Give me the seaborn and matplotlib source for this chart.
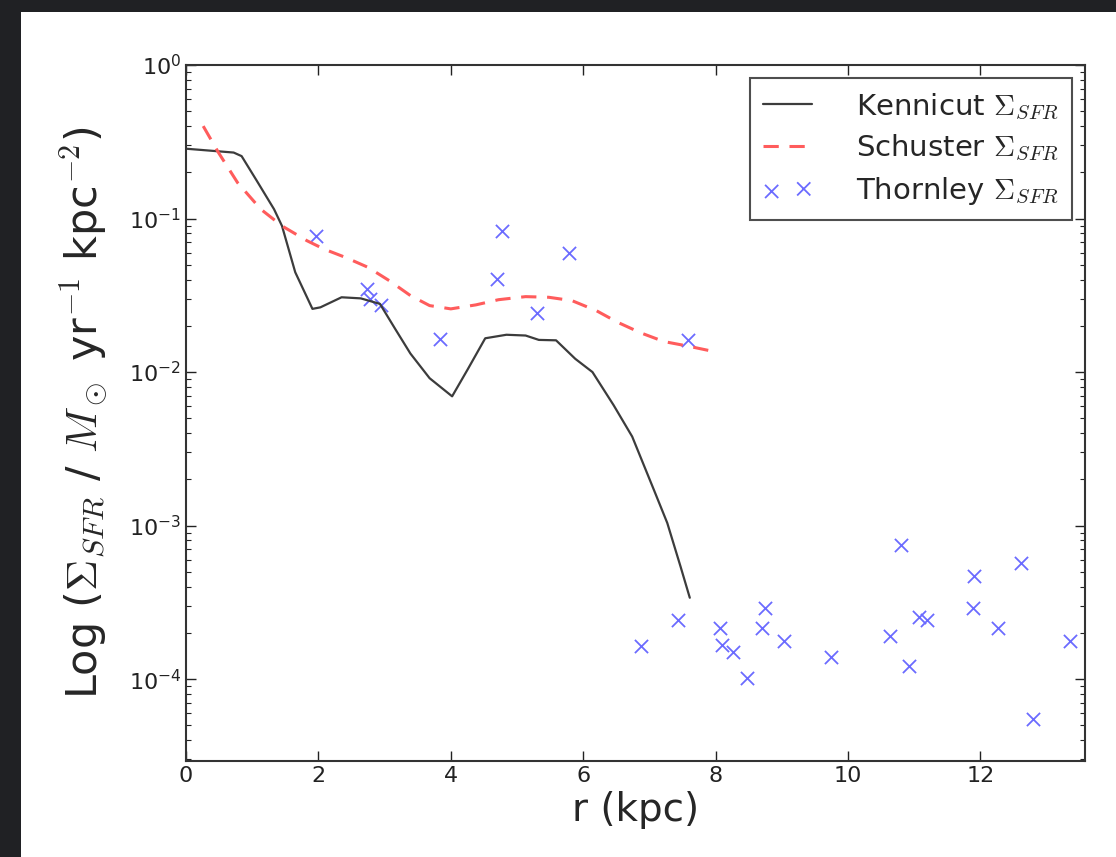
import numpy as np
import pandas as pd
import seaborn as sns
import matplotlib.pyplot as plt
from matplotlib.patches import Rectangle

# Kennicut profile (solid black)
kenn_r = [0.0, 0.72, 0.84, 1.07, 1.33, 1.45, 1.65, 1.91, 2.03, 2.35, 2.64, 2.93,
          3.16, 3.39, 3.68, 4.02, 4.26, 4.52, 4.84, 5.13, 5.33, 5.59, 5.88, 6.14,
          6.46, 6.74, 7.07, 7.27, 7.47, 7.61]
kenn_sfr = [0.285, 0.269, 0.255, 0.176, 0.115, 0.0895, 0.0447, 0.0258, 0.0264,
            0.0307, 0.0302, 0.0278, 0.0191, 0.0132, 0.00912, 0.00695, 0.0105,
            0.0166, 0.0175, 0.0173, 0.0162, 0.0161, 0.0122, 0.0100, 0.00608,
            0.0038, 0.0017, 0.00104, 0.000542, 0.000339]

# Schuster profile (red dashed)
schu_r = [0.26, 0.49, 0.78, 1.13, 1.45, 1.83, 2.09, 2.41, 2.75, 3.07, 3.39, 3.68,
          4.0, 4.38, 4.72, 5.13, 5.48, 5.83, 6.2, 6.52, 6.87, 7.22, 7.57, 7.94]
schu_sfr = [0.40, 0.269, 0.171, 0.115, 0.0895, 0.0716, 0.0631, 0.0558, 0.0481,
            0.0394, 0.0315, 0.0271, 0.0258, 0.0274, 0.0296, 0.031, 0.0307,
            0.0292, 0.0251, 0.0211, 0.018, 0.0158, 0.0148, 0.0137]

# Thornley measurements (blue crosses)
thor_r = [1.97, 2.74, 2.78, 2.94, 3.84, 4.70, 4.77, 5.30, 5.79, 7.59,
          6.88, 7.43, 8.07, 8.10, 8.27, 8.48, 8.70, 8.75, 9.03, 9.74,
          10.63, 10.80, 10.92, 11.08, 11.19, 11.89, 11.90, 12.26, 12.62,
          12.79, 13.36]
thor_sfr = [0.077, 0.0348, 0.030, 0.0274, 0.0165, 0.0404, 0.083, 0.0243,
            0.0596, 0.0161, 1.64e-4, 2.41e-4, 2.16e-4, 1.66e-4, 1.51e-4,
            1.01e-4, 2.14e-4, 2.9e-4, 1.77e-4, 1.40e-4, 1.91e-4, 7.5e-4,
            1.21e-4, 2.55e-4, 2.41e-4, 2.9e-4, 4.67e-4, 2.16e-4, 5.67e-4,
            5.5e-5, 1.78e-4]

kenn = pd.DataFrame({'r': kenn_r, 'sfr': kenn_sfr})
schu = pd.DataFrame({'r': schu_r, 'sfr': schu_sfr})
thor = pd.DataFrame({'r': thor_r, 'sfr': thor_sfr})

sns.set_style('ticks')
plt.rcParams['font.family'] = ['DejaVu Sans']
plt.rcParams['mathtext.fontset'] = 'cm'
plt.rcParams['xtick.direction'] = 'in'
plt.rcParams['ytick.direction'] = 'in'

fig = plt.figure(figsize=(11.16, 8.57), dpi=100, facecolor='#202124')
# white slide area
fig.patches.append(Rectangle((21 / 1116, 0), 1, 1 - 12 / 857, transform=fig.transFigure,
                             facecolor='white', edgecolor='none', zorder=-10))
ax = fig.add_axes([186 / 1116, 1 - 761 / 857, (1085 - 186) / 1116, (761 - 65) / 857])
ax.set_facecolor('white')

sns.lineplot(data=kenn, x='r', y='sfr', ax=ax, color='#3c3c3c', lw=1.6,
             estimator=None, label=r'Kennicut $\Sigma_{SFR}$')
sns.lineplot(data=schu, x='r', y='sfr', ax=ax, color='#ff5c5c', lw=2.2,
             estimator=None, label=r'Schuster $\Sigma_{SFR}$')
ax.lines[-1].set_dashes((5, 3.5))
sns.scatterplot(data=thor, x='r', y='sfr', ax=ax, marker='x', color='#6b6bff',
                s=90, linewidth=1.3, label=r'Thornley $\Sigma_{SFR}$')

ax.set_yscale('log')
ax.set_xlim(0, 13.58)
ax.set_ylim(2.93e-5, 1)

ax.tick_params(which='both', top=True, right=True, colors='#222222', labelsize=16)
ax.tick_params(which='major', length=7, width=1)
ax.tick_params(which='minor', length=3.5, width=0.8)
for s in ax.spines.values():
    s.set_color('#333333')
    s.set_linewidth(1.5)

ax.set_xlabel('r (kpc)', fontsize=28)
ax.set_ylabel(r'Log ($\Sigma_{SFR}$ / $M_\odot$ yr$^{-1}$ kpc$^{-2}$)', fontsize=31,
              labelpad=12)

leg = ax.legend(loc='upper right', fontsize=21, scatterpoints=2, fancybox=False,
                borderaxespad=0.45, handlelength=1.7, handletextpad=1.5,
                labelspacing=0.4, borderpad=0.45)
leg.get_frame().set_edgecolor('#222222')
leg.get_frame().set_linewidth(1.5)

fig.savefig('out.png', dpi=100, facecolor=fig.get_facecolor())
